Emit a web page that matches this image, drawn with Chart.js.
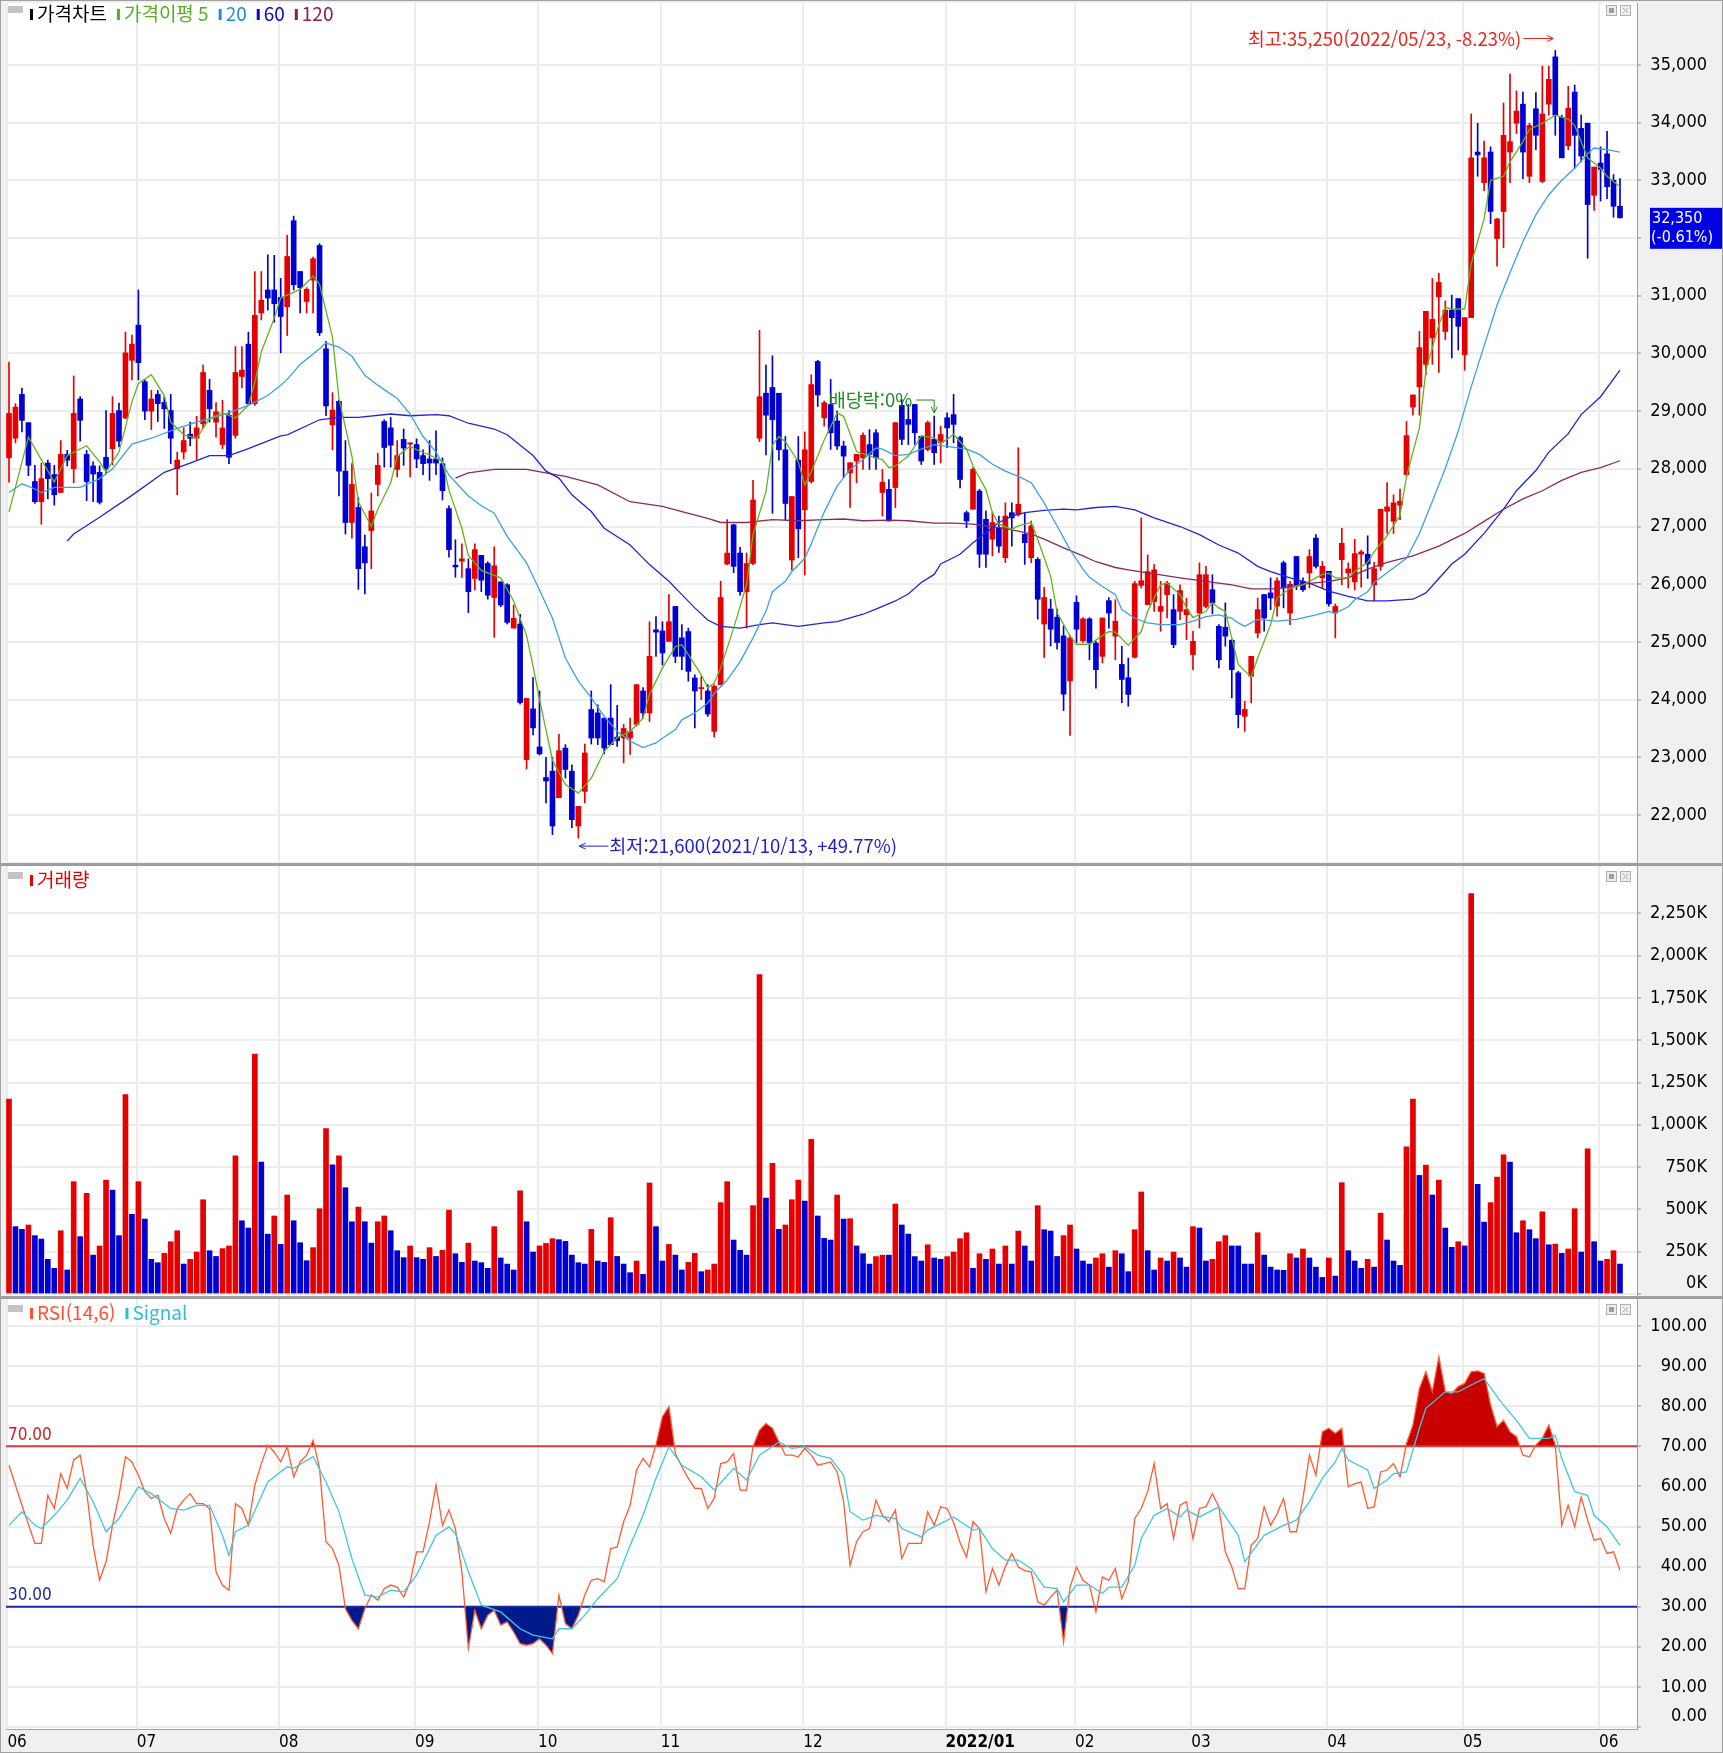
<!DOCTYPE html>
<html lang="ko">
<head>
<meta charset="utf-8">
<title>가격차트</title>
<script src="https://cdn.jsdelivr.net/npm/chart.js@4.4.0/dist/chart.umd.min.js"></script>
<style>
    html, body { margin: 0; padding: 0; background: #f0f0f0; }
    #painel { position: relative; width: 1723px; height: 1753px; overflow: hidden; }
    #painel canvas { position: absolute; left: 0; }
</style>
</head>
<body>
<div id="painel">
    <canvas id="chartPreco" width="1723" height="864" style="top:0px"></canvas>
    <canvas id="chartVolume" width="1723" height="433" style="top:864px"></canvas>
    <canvas id="chartRsi" width="1723" height="456" style="top:1297px"></canvas>
</div>
<script>
// ---- dados ----
const monthLabels = ['06', '07', '08', '09', '10', '11', '12', '2022/01', '02', '03', '04', '05', '06'];
const monthStart = [0, 20, 42, 63, 82, 101, 123, 145, 165, 183, 204, 225, 246];

const priceTicks = [22000, 23000, 24000, 25000, 26000, 27000, 28000, 29000, 30000, 31000, 32000, 33000, 34000, 35000];
const volumeTicks = [0, 250, 500, 750, 1000, 1250, 1500, 1750, 2000, 2250];
const rsiTicks = [0, 10, 20, 30, 40, 50, 60, 70, 80, 90, 100];

const openP = [
    28190, 28530, 29290, 28800, 27780, 27430, 28100, 27900, 27590, 28250,
    28000, 29210, 28250, 28050, 27940, 28200, 28350, 29010, 28880, 29880,
    30490, 29510, 29000, 29290, 29150, 29010, 28000, 28290, 28600, 28530,
    28780, 29360, 28810, 28420, 28930, 28580, 29600, 30160, 29130, 30700,
    31100, 31100, 30970, 30810, 32300, 31420, 30900, 31270, 31870, 30080,
    28760, 29170, 27960, 27070, 27330, 26650, 26930, 27730, 28820, 28710,
    27990, 28510, 28430, 28420, 28230, 28170, 28170, 28090, 27310, 26330,
    26400, 26270, 26100, 26500, 26360, 25770, 26040, 25990, 25240, 25310,
    22960, 23840, 23180, 22650, 22760, 22300, 23160, 22760, 21810, 22410,
    23830, 23770, 23680, 23680, 23350, 23335, 23335, 23570, 24150, 23770,
    25210, 25190, 25010, 25615, 25070, 25180, 24375, 24190, 24150, 23450,
    24260, 26350, 27030, 26540, 25870, 26360, 28530, 29310, 29410, 29310,
    28330, 26420, 28150, 27290, 27780, 29860, 28885, 29115, 28830, 28395,
    27930, 28135, 28190, 28420, 28625, 27590, 27645, 27675, 29100, 28855,
    29115, 28565, 28335, 28510, 28450, 28885, 28940, 28540, 27240, 27300,
    27615, 27125, 26780, 26980, 26460, 27240, 27210, 26865, 26460, 26430,
    25310, 25570, 25430, 25105, 24325, 25685, 25020, 25400, 24980, 24750,
    25715, 25100, 24610, 24380, 24735, 25980, 25645, 25700, 25530, 25820,
    25560, 25530, 25470, 24780, 25500, 25615, 25905, 25270, 25255, 25030,
    24465, 23710, 24405, 25155, 25820, 25850, 25620, 26370, 25500, 26480,
    26050, 26195, 26800, 26110, 26225, 25500, 26425, 26195, 26040, 26520,
    26520, 25990, 26310, 27265, 27090, 27370, 27900, 29070, 29420, 29810,
    30270, 30980, 30380, 30750, 30950, 29980, 30620, 33490, 32960, 33490,
    31990, 32460, 33490, 33990, 34320, 33070, 34240, 32980, 34320, 35140,
    34090, 33600, 34530, 33900, 33990, 32740, 33300, 33460, 33000, 32550
];
const highP = [
    29850, 29130, 29400, 28800, 28060, 28100, 28150, 28060, 28490, 28320,
    29610, 29250, 28320, 28120, 28050, 29010, 29250, 29140, 30370, 30320,
    31100, 29540, 29360, 29360, 29250, 29290, 28290, 28710, 28810, 28910,
    29800, 29550, 29150, 29190, 29010, 30120, 30120, 30370, 31420, 31420,
    31710, 31700, 31300, 32050, 32380, 31420, 31140, 31670, 31900, 30210,
    29320, 29190, 28490, 28090, 27500, 26850, 27580, 28270, 28850, 28890,
    28490, 28690, 28450, 28520, 28330, 28490, 28660, 28190, 27360, 26770,
    26700, 26440, 26700, 26500, 26390, 26650, 26040, 26010, 25640, 25480,
    24020, 24380, 24150, 23000, 23000, 23400, 23220, 22870, 22150, 23230,
    24150, 23910, 23680, 24260, 23900, 23570, 23680, 24260, 24210, 25350,
    25440, 25350, 25820, 25615, 25300, 25240, 24430, 24400, 24260, 24260,
    26050, 27120, 27040, 26640, 26540, 27800, 30400, 29800, 29960, 29310,
    28560, 27520, 28560, 28640, 29630, 29880, 29175, 29550, 29000, 28480,
    28105, 28250, 28625, 28680, 28680, 27990, 27815, 28800, 29200, 29115,
    29115, 28565, 28830, 28915, 28740, 28970, 29290, 28565, 27270, 28020,
    27645, 27270, 27240, 27180, 27410, 27410, 28365, 27240, 27095, 26460,
    25945, 25740, 25570, 25280, 25110, 25800, 25420, 25420, 25010, 25415,
    25770, 25730, 24925, 24720, 26050, 27150, 26510, 26340, 26050, 26050,
    25820, 25990, 25760, 25185, 26370, 26310, 26165, 25300, 25675, 25040,
    24490, 23970, 24750, 25760, 25820, 26110, 26110, 26400, 26050, 26480,
    26110, 26600, 26860, 26395, 26225, 25660, 26970, 26370, 26780, 26590,
    26840, 26380, 27300, 27760, 27550, 27650, 28820, 29280, 30380, 30730,
    31300, 31390, 30910, 31010, 30950, 30620, 34150, 33990, 33680, 33580,
    32340, 34340, 34840, 34550, 34530, 33990, 34520, 34980, 34980, 35250,
    34130, 34630, 34650, 34130, 33990, 33230, 33580, 33850, 33100, 33030
];
const lowP = [
    27770, 28450, 28640, 27880, 27400, 27040, 27480, 27370, 27590, 28050,
    27760, 28480, 27450, 27430, 27390, 27910, 28070, 28380, 28870, 29540,
    29540, 28850, 28680, 28820, 28700, 28090, 27550, 28170, 28400, 28160,
    28700, 28810, 28550, 28350, 28090, 28530, 29400, 29110, 29100, 30580,
    30750, 30540, 30010, 30310, 31100, 30700, 30700, 30700, 30310, 28920,
    28330, 27530, 26870, 26800, 25910, 25830, 26270, 27530, 28030, 28030,
    27860, 28060, 27860, 28020, 27900, 27800, 27900, 27460, 26470, 26120,
    26120, 25510, 25900, 25870, 25740, 25080, 25610, 25310, 25240, 23920,
    22800, 23390, 23040, 22210, 21660, 22300, 22640, 21780, 21600, 22210,
    23230, 23220, 23060, 23220, 23190, 22900, 23050, 23540, 23680, 23620,
    24750, 24600, 25010, 24640, 24520, 24320, 23510, 24000, 23710, 23350,
    24260, 26340, 26200, 25810, 25240, 26340, 28470, 28240, 27230, 28150,
    27120, 26250, 26460, 26160, 27750, 29080, 28740, 28336, 28336, 27845,
    27330, 27760, 27990, 27990, 27990, 27180, 27095, 27330, 28420, 28420,
    28420, 28075, 28310, 28075, 28105, 28365, 28450, 27670, 26980, 27300,
    26290, 26290, 26490, 26550, 26375, 26660, 27180, 26345, 26375, 25395,
    24730, 24930, 24875, 23810, 23380, 24990, 24990, 24690, 24200, 24635,
    25240, 24690, 23945, 23885, 24720, 25935, 25645, 25530, 25185, 25415,
    24900, 25385, 25040, 24520, 25240, 25590, 25485, 24550, 24925, 24030,
    23510, 23450, 23945, 25070, 25185, 25560, 25445, 25590, 25300, 25905,
    25875, 25935, 26280, 25935, 25620, 25070, 25990, 25935, 25900, 25950,
    26100, 25710, 26240, 26880, 26880, 27120, 27870, 28930, 28930, 29630,
    29810, 29670, 30240, 29920, 30060, 29710, 30620, 33070, 32820, 32250,
    31510, 31830, 32960, 33810, 33030, 32960, 33530, 32960, 34130, 33780,
    33390, 33530, 33210, 33320, 31650, 32480, 32640, 32680, 32360, 32350
];
const closeP = [
    28960, 29070, 28840, 28060, 27430, 27830, 27830, 27550, 28250, 28150,
    28960, 28840, 27780, 27910, 27420, 28000, 28960, 28480, 30010, 30160,
    29840, 29000, 29210, 29130, 29040, 28530, 28150, 28490, 28530, 28710,
    29670, 29040, 28990, 28710, 28200, 29670, 29710, 29130, 30660, 30920,
    30960, 30860, 30640, 31680, 31190, 31140, 31110, 31640, 30360, 29090,
    29020, 27960, 27070, 27730, 26270, 26370, 27270, 28060, 28370, 28410,
    28230, 28360, 28450, 28170, 28090, 28100, 28100, 27620, 26600, 26300,
    26440, 25870, 26600, 26070, 25810, 26320, 25640, 25340, 25410, 23950,
    24020, 23510, 23060, 22590, 21810, 23115, 22790, 21920, 22150, 23075,
    23335, 23335, 23160, 23220, 23290, 23500, 23450, 24260, 23770, 24750,
    25170, 24810, 25350, 24750, 24750, 24490, 24150, 24210, 23750, 24230,
    25770, 26540, 26310, 25870, 26360, 27460, 29250, 28930, 28850, 28330,
    27400, 27520, 26960, 28330, 29460, 29280, 29145, 28625, 28395, 28220,
    28105, 28250, 28580, 28250, 28190, 27770, 27095, 28800, 28510, 28770,
    28625, 28135, 28800, 28280, 28595, 28710, 28770, 27815, 27095, 27990,
    26520, 26520, 27070, 26660, 27180, 27150, 27385, 26720, 27010, 25740,
    25770, 25220, 24990, 24095, 25070, 25220, 25400, 24990, 24520, 25415,
    25500, 25360, 24350, 24090, 26010, 26060, 26220, 26250, 25615, 26020,
    24955, 25890, 25560, 25010, 26165, 26165, 25675, 24690, 25100, 24520,
    23740, 23830, 24750, 25560, 25415, 25760, 26060, 25935, 26000, 25990,
    25905, 26480, 26310, 26310, 25660, 25615, 26710, 26265, 26530, 26560,
    26350, 26270, 27300, 27340, 27410, 27440, 28575, 29280, 30100, 30730,
    30590, 31230, 30750, 30620, 30470, 30620, 33390, 33440, 33390, 32460,
    32330, 33780, 33670, 34200, 33490, 33950, 33780, 34150, 34750, 34130,
    33390, 34250, 33780, 33420, 32580, 33230, 33190, 32890, 32550, 32350
];

// volume em milhares (K)
const volumeK = [
    1152, 398, 382, 408, 345, 325, 205, 152, 374, 142,
    664, 339, 595, 230, 284, 673, 614, 345, 1179, 471,
    664, 443, 205, 185, 240, 309, 374, 177, 205, 248,
    557, 256, 222, 268, 284, 817, 433, 390, 1418, 780,
    354, 461, 293, 585, 433, 303, 197, 274, 504, 977,
    764, 817, 628, 427, 514, 427, 301, 427, 461, 374,
    256, 215, 284, 215, 205, 274, 222, 258, 496, 238,
    187, 301, 195, 185, 152, 398, 213, 177, 142, 610,
    427, 248, 284, 299, 327, 321, 311, 230, 185, 177,
    382, 195, 187, 451, 222, 177, 126, 195, 116, 656,
    398, 195, 293, 230, 142, 187, 240, 132, 142, 177,
    540, 664, 319, 258, 230, 522, 1888, 567, 772, 382,
    408, 557, 673, 549, 914, 461, 329, 319, 585, 443,
    445, 284, 238, 177, 221, 230, 230, 532, 408, 354,
    221, 195, 291, 213, 205, 221, 248, 327, 362, 152,
    238, 205, 266, 177, 284, 177, 372, 284, 195, 522,
    380, 372, 222, 345, 408, 266, 195, 177, 213, 238,
    159, 256, 238, 132, 380, 603, 256, 142, 213, 195,
    248, 213, 159, 398, 390, 195, 205, 309, 345, 284,
    284, 177, 177, 362, 230, 159, 142, 140, 238, 213,
    266, 213, 159, 98, 213, 106, 658, 256, 195, 152,
    205, 159, 478, 319, 195, 169, 870, 1152, 701, 762,
    585, 673, 390, 276, 309, 284, 2367, 648, 425, 540,
    691, 823, 780, 362, 433, 380, 327, 486, 291, 295,
    240, 266, 504, 248, 858, 309, 195, 205, 256, 177
];

// medias moveis: [indice do pregao, valor]
const ma5 = [[0, 27250], [3, 28550], [7, 27770], [9, 28230], [12, 28400], [14, 28120], [15, 27950], [17, 28290], [19, 29160], [20, 29480], [22, 29630], [24, 29270], [25, 28810], [27, 28590], [29, 28530], [31, 28870], [33, 28970], [35, 28880], [37, 29100], [38, 29500], [39, 30030], [41, 30610], [42, 30960],
    [45, 31110], [47, 31340], [48, 31200], [50, 30280], [51, 29220], [53, 28220], [54, 27430], [56, 27000], [57, 27300], [59, 27760], [60, 28220], [62, 28390], [63, 28330], [65, 28240], [67, 28130], [68, 27630], [70, 26970], [71, 26500], [73, 26240], [76, 26110], [78, 25710], [80, 25110], [81, 24580], [82, 24000],
    [84, 22950], [86, 22530], [88, 22380], [90, 22640], [92, 23100], [94, 23340], [96, 23450], [98, 23680], [99, 24090], [101, 24550], [103, 24920], [104, 24950], [105, 24780], [107, 24430], [108, 24200], [109, 24290], [110, 24550], [112, 25240], [114, 25990], [115, 26860], [117, 27600], [118, 28410], [119, 28560], [120, 28470], [122, 28120], [123, 27720], [124, 27950], [126, 28500],
    [128, 28970], [129, 28910], [131, 28300], [133, 28220], [135, 28160], [136, 28020], [137, 28050], [139, 28220], [140, 28390], [141, 28570], [143, 28540], [144, 28450], [145, 28510], [146, 28600], [148, 28340], [149, 28050], [151, 27640], [152, 27240], [153, 27040], [155, 26950], [156, 27010], [158, 27070], [159, 26780], [161, 26140], [162, 25510], [164, 25100], [165, 24960], [167, 24960],
    [170, 25180], [171, 25170], [173, 24940], [175, 25180], [176, 25530], [178, 25990], [179, 26020], [181, 25820], [182, 25590], [183, 25420], [185, 25530], [186, 25680], [187, 25590], [188, 25530], [189, 25070], [190, 24610], [192, 24390], [193, 24720], [195, 25300], [196, 25760], [198, 25930], [200, 25990], [201, 26050], [203, 26170], [204, 26190], [205, 26110], [207, 26110], [208, 26220],
    [209, 26300], [210, 26380], [211, 26560], [213, 26840], [215, 27190], [216, 27870], [218, 28710], [219, 29710], [221, 30490], [222, 30800], [223, 30770], [225, 30770], [226, 31550], [228, 32330], [229, 33000], [231, 33070], [232, 33320], [234, 33670], [235, 33880], [237, 33990], [239, 34130], [241, 34060], [242, 33950], [243, 33670], [244, 33390], [246, 33210], [247, 33070], [249, 32890]];

const ma20 = [[0, 27590], [2, 27740], [4, 27650], [5, 27590], [7, 27680], [11, 27680], [14, 27830], [16, 28000], [19, 28430], [22, 28530], [26, 28700], [29, 28810], [33, 28930], [37, 29100], [40, 29270], [42, 29450],
    [43, 29550], [45, 29810], [48, 30080], [49, 30180], [51, 30110], [53, 29950], [55, 29620], [57, 29450], [60, 29220], [62, 28950], [64, 28560], [66, 28290], [68, 27890], [71, 27530], [73, 27360], [75, 27230], [77, 26830], [80, 26370], [82, 25900],
    [84, 25410], [86, 24720], [88, 24320], [90, 24030], [92, 23710], [94, 23450], [96, 23280], [98, 23170], [100, 23250], [101, 23330], [103, 23480], [104, 23650], [106, 23770], [108, 23940], [109, 24110], [111, 24340], [113, 24660], [115, 25070], [117, 25530], [118, 25870], [120, 26050], [121, 26220], [123, 26450], [124, 26700], [126, 27250],
    [128, 27700], [130, 27990], [132, 28160], [134, 28360], [135, 28340], [137, 28230], [139, 28250], [141, 28340], [143, 28420], [145, 28390], [148, 28340], [150, 28250], [152, 28080], [154, 27960], [156, 27870], [158, 27760], [160, 27410], [162, 27010], [164, 26600], [166, 26260],
    [167, 26120], [169, 25960], [171, 25820], [172, 25560], [174, 25410], [176, 25330], [178, 25300], [181, 25300], [183, 25360], [185, 25440], [187, 25470], [189, 25410], [190, 25330], [191, 25270], [193, 25390], [196, 25360], [199, 25390], [202, 25470], [204, 25530], [205, 25500], [207, 25610], [208, 25730], [210, 25870],
    [211, 26030], [213, 26200], [216, 26450], [218, 26880], [220, 27440], [222, 28010], [224, 28650], [226, 29420], [228, 30130], [230, 30840], [232, 31400], [234, 31940], [236, 32400], [238, 32750], [240, 33000], [242, 33210], [244, 33460], [245, 33560], [247, 33530], [249, 33490]];

const ma60 = [[9, 26750], [10, 26870], [14, 27160], [19, 27540], [24, 27940], [28, 28100], [31, 28230], [34, 28230], [37, 28350], [42, 28570],
    [43, 28590], [48, 28850], [51, 28890], [54, 28890], [59, 28950], [62, 28920], [66, 28940], [68, 28920], [71, 28790], [75, 28690], [77, 28590], [81, 28230], [83, 27960],
    [85, 27840], [87, 27550], [90, 27260], [92, 26970], [96, 26680], [99, 26340], [102, 26050], [104, 25820], [106, 25590], [108, 25380], [110, 25270], [113, 25240], [116, 25300], [118, 25330], [122, 25270], [126, 25330],
    [128, 25350], [132, 25480], [134, 25570], [137, 25710], [139, 25830], [141, 26030], [143, 26170], [144, 26350], [147, 26520], [149, 26720], [151, 26890], [153, 27070], [155, 27180], [157, 27240], [160, 27280], [163, 27300], [165, 27290], [168, 27330],
    [171, 27350], [174, 27290], [177, 27150], [181, 27000], [184, 26860], [187, 26680], [190, 26540], [193, 26310], [195, 26220], [198, 26110], [201, 26020], [204, 25880], [207, 25790],
    [210, 25710], [213, 25710], [217, 25740], [219, 25850], [221, 26100], [223, 26350], [225, 26520], [228, 26880], [231, 27300], [233, 27620], [236, 27970], [238, 28290], [241, 28610], [243, 28940], [246, 29250], [249, 29710]];

const ma120 = [[69, 27840], [71, 27930], [75, 27990], [80, 27990], [84, 27910],
    [86, 27870], [91, 27720], [96, 27430], [101, 27350], [104, 27260], [108, 27140], [110, 27070], [114, 27070], [118, 27120], [122, 27100], [126, 27120],
    [129, 27130], [132, 27100], [136, 27110], [139, 27100], [143, 27060], [146, 27060], [149, 27040], [153, 26980], [156, 26920], [158, 26870], [160, 26780], [163, 26630], [166, 26490], [168, 26390],
    [171, 26290], [173, 26250], [177, 26180], [181, 26110], [185, 26050], [189, 25990], [192, 25920], [196, 25920], [200, 26000], [204, 26050], [207, 26110], [210, 26260],
    [213, 26380], [217, 26490], [221, 26660], [225, 26880], [228, 27090], [231, 27300], [234, 27480], [237, 27620], [240, 27800], [243, 27940], [246, 28020], [249, 28140]];

// RSI(14) e Signal(6): [indice, valor]
const rsi = [[0, 65.3], [2, 55.3], [4, 45.8], [5, 45.8], [6, 57.8], [7, 54.5], [8, 63.2], [9, 59.5], [10, 66.6], [11, 67.8], [12, 58.7], [13, 45.3], [14, 36.6], [15, 41.2], [16, 50.3], [17, 57.8], [18, 67.4], [19, 66.1], [20, 62.8], [21, 58.7], [22, 57.0], [23, 57.8], [24, 52.0], [25, 48.3], [26, 54.5], [27, 56.6], [28, 58.2], [29, 55.7], [30, 55.7], [31, 54.5], [32, 38.7], [33, 35.4], [34, 34.1], [35, 55.7], [36, 54.5], [37, 50.3], [38, 60.3], [39, 65.7], [40, 70.3], [41, 68.6], [42, 66.1], [43, 69.9], [44, 62.4], [45, 66.1], [46, 67.8], [47, 71.5], [48, 64.5], [49, 46.2],
    [50, 44.5], [51, 40.3], [52, 29.5], [53, 26.6], [54, 24.5], [55, 29.5], [56, 32.9], [57, 31.6], [58, 34.5], [59, 35.4], [60, 34.9], [61, 32.4], [62, 36.2], [63, 43.7], [64, 43.7], [65, 51.2], [66, 60.3], [67, 50.3], [68, 54.1], [69, 49.5], [70, 38.7], [71, 19.6], [72, 29.1], [73, 24.5], [74, 27.9], [75, 29.1], [76, 25.4], [77, 26.2], [78, 23.7], [79, 20.8], [80, 20.4], [81, 20.8], [82, 22.0], [83, 20.4], [84, 18.3], [85, 32.9], [86, 25.8], [87, 24.5], [88, 27.9], [89, 32.9], [90, 36.6], [91, 37.0], [92, 36.2], [93, 44.5], [94, 44.9], [95, 51.2], [96, 55.3], [97, 64.1], [98, 67.0], [99, 64.9],
    [100, 70.3], [101, 77.4], [102, 79.9], [103, 68.2], [104, 64.9], [105, 62.0], [106, 59.5], [107, 59.5], [108, 54.5], [109, 57.0], [110, 65.7], [111, 66.1], [112, 68.2], [113, 59.1], [114, 59.1], [115, 69.9], [116, 74.0], [117, 75.7], [118, 74.5], [119, 71.1], [120, 67.8], [121, 67.8], [122, 67.4], [123, 69.5], [124, 67.8], [125, 65.3], [126, 65.7], [127, 66.1], [128, 63.6], [129, 56.2], [130, 40.3], [131, 46.2], [132, 48.7], [133, 49.5], [134, 56.6], [135, 52.8], [136, 51.2], [137, 54.1], [138, 42.0], [139, 45.8], [140, 45.8], [141, 45.8], [142, 53.7], [143, 50.3], [144, 54.9], [145, 54.5], [146, 51.0], [147, 46.0], [148, 42.4], [149, 51.2],
    [150, 49.5], [151, 33.7], [152, 39.5], [153, 35.4], [154, 40.0], [155, 43.3], [156, 39.9], [157, 39.0], [158, 38.7], [159, 31.2], [160, 30.4], [161, 32.4], [162, 34.1], [163, 21.2], [164, 34.9], [165, 39.9], [166, 36.6], [167, 35.4], [168, 28.7], [169, 37.4], [170, 36.6], [171, 39.5], [172, 32.0], [173, 36.2], [174, 52.0], [175, 54.5], [176, 58.7], [177, 65.7], [178, 54.5], [179, 55.7], [180, 47.0], [181, 55.3], [182, 56.2], [183, 47.0], [184, 54.5], [185, 54.9], [186, 58.2], [187, 54.9], [188, 43.7], [189, 39.9], [190, 34.5], [191, 34.5], [192, 45.3], [193, 47.0], [194, 54.9], [195, 50.3], [196, 53.2], [197, 57.0], [198, 48.7], [199, 48.7],
    [200, 57.0], [201, 67.8], [202, 62.8], [203, 73.6], [204, 74.5], [205, 73.2], [206, 74.5], [207, 59.9], [208, 60.7], [209, 61.1], [210, 54.5], [211, 54.9], [212, 63.6], [213, 64.1], [214, 65.7], [215, 62.4], [216, 70.7], [217, 75.3], [218, 84.4], [219, 88.6], [220, 83.6], [221, 92.3], [222, 83.6], [223, 83.2], [224, 84.9], [225, 85.7], [226, 88.6], [227, 88.8], [228, 88.2], [229, 80.3], [230, 74.9], [231, 76.5], [232, 73.6], [233, 72.4], [234, 67.8], [235, 67.4], [236, 70.3], [237, 72.0], [238, 75.3], [239, 70.3], [240, 50.3], [241, 55.3], [242, 49.9], [243, 57.4], [244, 51.6], [245, 46.6], [246, 47.0], [247, 43.3], [248, 43.7], [249, 39.1]];

const signal = [[0, 50.3], [2, 53.7], [4, 50.3], [5, 49.5], [7, 52.8], [9, 56.6], [11, 62.0], [13, 56.2], [15, 48.7], [17, 52.0], [20, 59.9], [22, 58.2], [25, 54.5], [27, 54.1], [29, 55.3], [31, 55.3], [33, 47.8], [34, 42.8], [35, 48.7], [37, 50.3], [40, 61.1], [43, 64.9], [44, 64.5], [47, 67.4], [49, 61.1], [51, 53.7], [53, 42.0], [55, 32.9], [57, 32.4], [59, 34.1], [61, 33.7], [63, 37.9], [66, 47.8], [68, 49.9], [69, 48.3], [71, 38.7], [73, 30.4], [76, 28.7], [79, 24.5], [81, 22.9], [84, 22.0], [85, 24.5], [87, 24.5], [89, 27.9], [91, 32.0], [94, 37.0], [96, 45.3], [98, 52.8], [100, 62.0], [102, 69.9], [104, 65.3], [107, 62.4], [109, 59.1], [112, 64.5], [114, 61.6], [116, 67.8], [119, 71.1], [121, 69.5], [123, 69.9], [125, 67.8],
    [127, 67.0], [129, 62.8], [130, 53.7], [132, 51.6], [134, 52.8], [137, 52.0], [138, 49.5], [141, 47.4], [142, 49.1], [146, 52.4], [149, 49.1], [150, 49.5], [152, 44.5], [154, 41.6], [156, 41.6], [158, 39.5], [160, 34.9], [162, 34.5], [163, 31.2], [165, 35.4], [167, 35.4], [169, 33.3], [170, 34.9], [172, 34.9], [174, 40.3], [175, 47.0], [177, 52.8], [179, 54.5], [181, 52.4], [182, 54.1], [184, 52.4], [187, 54.9], [190, 47.8], [191, 41.2], [194, 47.8], [197, 50.3], [199, 51.6], [201, 56.2], [203, 62.0], [205, 66.1], [206, 69.5], [207, 66.6], [210, 64.1], [211, 59.5], [213, 61.6], [214, 63.2], [216, 63.6], [218, 74.5], [219, 79.5], [222, 83.6], [224, 83.6], [226, 85.3], [228, 86.9], [230, 82.4], [231, 80.3], [233, 76.5], [235, 72.0], [238, 72.0], [239, 72.8], [240, 67.0], [242, 58.7], [244, 57.8], [245, 52.8], [247, 49.9], [249, 45.3]];

const textoMaximo = '최고:35,250(2022/05/23, -8.23%)';
const textoMinimo = '최저:21,600(2021/10/13, +49.77%)';
const textoDividendo = '배당락:0%';
const idxDividendo = 143;
const textoAtual = ['32,350', '(-0.61%)'];

// ---- estilo ----
const X_MIN = -0.464;
const X_MAX = 251.63;
const VERMELHO = '#e60000';
const AZUL = '#0000d2';
const GRADE = '#ececec';
const FONTE_NUM = "'DejaVu Sans Condensed', 'DejaVu Sans', sans-serif";
const FONTE_TXT = "'Noto Sans CJK KR', 'DejaVu Sans', sans-serif";

const corCandle = closeP.map(function (c, i) { return c >= openP[i] ? VERMELHO : AZUL; });
const corVolume = volumeK.map(function (v, i) { return (i === 0 || v > volumeK[i - 1]) ? VERMELHO : AZUL; });

function pontos(lista) {
    return lista.map(function (p) { return { x: p[0], y: p[1] }; });
}

function linhaMedia(lista, cor, ordem) {
    return {
        type: 'line', order: ordem, data: pontos(lista),
        borderColor: cor, borderWidth: 1.3, pointRadius: 0, tension: 0, fill: false
    };
}

function eixoX(mostrarRotulos) {
    return {
        type: 'linear', min: X_MIN, max: X_MAX, offset: false,
        grid: { color: GRADE, lineWidth: 2, drawTicks: false, offset: false },
        border: { display: mostrarRotulos, color: '#a0a0a0' },
        ticks: {
            display: mostrarRotulos, autoSkip: false, maxRotation: 0, minRotation: 0,
            align: 'start', padding: 3, color: '#000',
            font: function (c) {
                return { family: FONTE_NUM, size: 17, weight: c.index === 7 ? 'bold' : 'normal' };
            },
            callback: function (v, i) { return monthLabels[i]; }
        },
        afterBuildTicks: function (s) {
            s.ticks = monthStart.map(function (m) { return { value: m - 0.25 }; });
        },
        afterFit: function (s) {
            s.height = mostrarRotulos ? 24 : 0;
            s.paddingLeft = 0;
            s.paddingRight = 0;
        }
    };
}

// o rotulo do zero sobe meia linha, como no original
function eixoY(min, max, valores, formato) {
    return {
        type: 'linear', position: 'right', min: min, max: max,
        grid: { color: GRADE, lineWidth: 2, drawTicks: true, tickLength: 4, tickColor: '#8c8c8c', tickWidth: 1 },
        border: { display: true, color: '#a0a0a0', width: 1 },
        ticks: {
            autoSkip: false, crossAlign: 'far', padding: 6, color: '#000',
            font: { family: FONTE_NUM, size: 18 },
            callback: function (v) { return v === 0 ? [formato(v), ''] : formato(v); }
        },
        afterBuildTicks: function (s) {
            s.ticks = valores.map(function (v) { return { value: v }; });
        },
        afterFit: function (s) {
            s.width = 70;
            s.paddingTop = 0;
            s.paddingBottom = 0;
        }
    };
}

function desenharLegenda(ctx, x, y, itens) {
    ctx.font = '19px ' + FONTE_TXT;
    ctx.textBaseline = 'middle';
    ctx.textAlign = 'left';
    itens.forEach(function (item) {
        ctx.fillStyle = item.cor;
        ctx.fillRect(x, y - 5, 3, 11);
        x += 7;
        ctx.fillText(item.texto, x, y);
        x += ctx.measureText(item.texto).width + 10;
    });
}

function seta(ctx, x1, y1, x2, y2, cor) {
    ctx.strokeStyle = cor;
    ctx.lineWidth = 1;
    ctx.beginPath();
    ctx.moveTo(x1, y1);
    ctx.lineTo(x2, y2);
    ctx.stroke();
    var ang = Math.atan2(y2 - y1, x2 - x1);
    ctx.beginPath();
    ctx.moveTo(x2 - 7 * Math.cos(ang - 0.45), y2 - 7 * Math.sin(ang - 0.45));
    ctx.lineTo(x2, y2);
    ctx.lineTo(x2 - 7 * Math.cos(ang + 0.45), y2 - 7 * Math.sin(ang + 0.45));
    ctx.stroke();
}

// fundo cinza, area branca, bordas e cabecalho de cada painel
const fundo = {
    id: 'fundo',
    beforeDraw: function (chart) {
        var ctx = chart.ctx, a = chart.chartArea;
        ctx.save();
        ctx.fillStyle = '#f0f0f0';
        ctx.fillRect(0, 0, chart.width, chart.height);
        ctx.fillStyle = '#ffffff';
        ctx.fillRect(a.left, a.top, a.right - a.left, a.bottom - a.top);
        ctx.restore();
    },
    afterDraw: function (chart, args, opts) {
        var ctx = chart.ctx;
        ctx.save();
        if (opts.linhaTopo) {
            ctx.fillStyle = '#9a9a9a';
            ctx.fillRect(0, 0, chart.width, 2);
        }
        ctx.strokeStyle = '#a0a0a0';
        ctx.lineWidth = 1;
        ctx.strokeRect(0.5, 0.5, chart.width - 1, chart.height - 1);
        // icone cinza e botoes
        var top = opts.linhaTopo ? 4 : 2;
        ctx.fillStyle = '#c4c4c4';
        ctx.fillRect(8, top + 4, 15, 7);
        [1606, 1620].forEach(function (bx, k) {
            ctx.fillStyle = '#ececec';
            ctx.fillRect(bx, top + 3, 11, 11);
            ctx.strokeStyle = '#b0b0b0';
            ctx.strokeRect(bx + 0.5, top + 3.5, 10, 10);
            if (k === 0) {
                ctx.fillStyle = '#a0a0a0';
                ctx.fillRect(bx + 3, top + 6, 5, 5);
            } else {
                ctx.beginPath();
                ctx.moveTo(bx + 3, top + 6);
                ctx.lineTo(bx + 8, top + 11);
                ctx.moveTo(bx + 8, top + 6);
                ctx.lineTo(bx + 3, top + 11);
                ctx.stroke();
            }
        });
        desenharLegenda(ctx, 30, top + 12, opts.itens);
        ctx.restore();
    }
};

const anotacoesPreco = {
    id: 'anotacoesPreco',
    afterDatasetsDraw: function (chart) {
        var ctx = chart.ctx, x = chart.scales.x, y = chart.scales.y;
        var idxMax = highP.indexOf(Math.max.apply(null, highP));
        var idxMin = lowP.indexOf(Math.min.apply(null, lowP));
        ctx.save();
        ctx.font = '18.5px ' + FONTE_TXT;
        ctx.textBaseline = 'middle';

        // maximo
        var xm = x.getPixelForValue(idxMax), ym = y.getPixelForValue(highP[idxMax]) - 12;
        ctx.fillStyle = '#e8281e';
        ctx.textAlign = 'right';
        ctx.fillText(textoMaximo, xm - 34, ym);
        seta(ctx, xm - 32, ym, xm - 2, ym, '#e8281e');

        // minimo
        var xn = x.getPixelForValue(idxMin), yn = y.getPixelForValue(lowP[idxMin]) + 8;
        ctx.fillStyle = '#1e1ec8';
        ctx.textAlign = 'left';
        ctx.fillText(textoMinimo, xn + 31, yn);
        seta(ctx, xn + 30, yn, xn + 1, yn, '#1e1ec8');

        // ex-dividendo
        var xd = x.getPixelForValue(idxDividendo), yd = y.getPixelForValue(highP[idxDividendo]);
        ctx.fillStyle = '#1e8c1e';
        ctx.textAlign = 'right';
        ctx.fillText(textoDividendo, xd - 22, yd - 16);
        ctx.strokeStyle = '#1e8c1e';
        ctx.beginPath();
        ctx.moveTo(xd - 18, yd - 16);
        ctx.lineTo(xd, yd - 16);
        ctx.stroke();
        seta(ctx, xd, yd - 16, xd, yd - 3, '#1e8c1e');

        // preco atual
        var yc = y.getPixelForValue(closeP[closeP.length - 1]);
        ctx.fillStyle = '#0000e6';
        ctx.fillRect(1650, yc - 10, 73, 41);
        ctx.fillStyle = '#ffffff';
        ctx.textAlign = 'left';
        ctx.font = '16px ' + FONTE_NUM;
        ctx.fillText(textoAtual[0], 1652, yc + 1);
        ctx.fillText(textoAtual[1], 1651, yc + 20);
        ctx.restore();
    }
};

const rotulosRsi = {
    id: 'rotulosRsi',
    afterDatasetsDraw: function (chart) {
        var ctx = chart.ctx, y = chart.scales.y;
        ctx.save();
        ctx.font = '17px ' + FONTE_NUM;
        ctx.textBaseline = 'middle';
        ctx.textAlign = 'left';
        ctx.fillStyle = '#d02020';
        ctx.fillText('70.00', 8, y.getPixelForValue(70) - 11);
        ctx.fillStyle = '#1a2a9a';
        ctx.fillText('30.00', 8, y.getPixelForValue(30) - 11);
        ctx.restore();
    }
};

function opcoesBase(padding, itens, linhaTopo) {
    return {
        responsive: false, animation: false, devicePixelRatio: 1,
        layout: { padding: padding },
        plugins: {
            legend: { display: false },
            tooltip: { enabled: false },
            fundo: { itens: itens, linhaTopo: linhaTopo }
        }
    };
}

// ---- grafico de preco ----
const ctxPreco = document.getElementById('chartPreco');
var opPreco = opcoesBase({ top: 3, bottom: 2, left: 6, right: 16 }, [
    { texto: '가격차트', cor: '#000000' },
    { texto: '가격이평 5', cor: '#54b01e' },
    { texto: '20', cor: '#1e8ce6' },
    { texto: '60', cor: '#0a0ac8' },
    { texto: '120', cor: '#8c1e50' }
], false);
opPreco.scales = {
    x: eixoX(false),
    y: eixoY(21186, 36073, priceTicks, function (v) { return v.toLocaleString('en-US'); })
};
var chartPreco = new Chart(ctxPreco, {
    type: 'bar',
    data: {
        datasets: [
            linhaMedia(ma5, '#62b41e', 0),
            linhaMedia(ma20, '#3ca0e6', 1),
            linhaMedia(ma60, '#2424d2', 2),
            linhaMedia(ma120, '#8c2a5a', 3),
            {
                type: 'bar', order: 4, grouped: false, barThickness: 5, minBarLength: 1,
                data: closeP.map(function (c, i) { return { x: i, y: [openP[i], c] }; }),
                backgroundColor: corCandle, borderWidth: 0
            },
            {
                type: 'bar', order: 5, grouped: false, barThickness: 1,
                data: highP.map(function (h, i) { return { x: i, y: [lowP[i], h] }; }),
                backgroundColor: corCandle, borderWidth: 0
            }
        ]
    },
    options: opPreco,
    plugins: [fundo, anotacoesPreco]
});

// ---- volume ----
const ctxVolume = document.getElementById('chartVolume');
var opVolume = opcoesBase({ top: 2, bottom: 1, left: 6, right: 16 }, [
    { texto: '거래량', cor: '#e60000' }
], true);
opVolume.scales = {
    x: eixoX(false),
    y: eixoY(-11.8, 2529.6, volumeTicks, function (v) { return v.toLocaleString('en-US') + 'K'; })
};
var chartVolume = new Chart(ctxVolume, {
    type: 'bar',
    data: {
        datasets: [{
            type: 'bar', grouped: false, barThickness: 5,
            data: volumeK.map(function (v, i) { return { x: i, y: v }; }),
            backgroundColor: corVolume, borderWidth: 0
        }]
    },
    options: opVolume,
    plugins: [fundo]
});

// ---- RSI ----
const ctxRsi = document.getElementById('chartRsi');
var opRsi = opcoesBase({ top: 1, bottom: 0, left: 6, right: 16 }, [
    { texto: 'RSI(14,6)', cor: '#ff5030' },
    { texto: 'Signal', cor: '#30c0d0' }
], true);
opRsi.plugins.filler = { drawTime: 'beforeDatasetsDraw', propagate: false };
opRsi.scales = {
    x: eixoX(true),
    y: eixoY(-0.5, 107, rsiTicks, function (v) { return v.toFixed(2); })
};
var chartRsi = new Chart(ctxRsi, {
    type: 'line',
    data: {
        datasets: [
            { order: 0, data: pontos(signal), borderColor: '#40c8d8', borderWidth: 1.3, pointRadius: 0, tension: 0, fill: false },
            {
                order: 1, data: pontos(rsi), borderColor: '#ff5a32', borderWidth: 1.3, pointRadius: 0, tension: 0,
                fill: { target: { value: 70 }, above: '#c80000', below: 'rgba(0,0,0,0)' }
            },
            {
                order: 2, data: [{ x: X_MIN, y: 70 }, { x: X_MAX, y: 70 }],
                borderColor: '#d83c3c', borderWidth: 2, pointRadius: 0, fill: false
            },
            {
                order: 2, data: [{ x: X_MIN, y: 30 }, { x: X_MAX, y: 30 }],
                borderColor: '#1a2a9a', borderWidth: 2, pointRadius: 0, fill: false
            },
            {
                order: 3, data: pontos(rsi), borderColor: 'rgba(0,0,0,0)', borderWidth: 0, pointRadius: 0, tension: 0,
                fill: { target: { value: 30 }, above: 'rgba(0,0,0,0)', below: '#001a8c' }
            }
        ]
    },
    options: opRsi,
    plugins: [fundo, rotulosRsi]
});
</script>
</body>
</html>
